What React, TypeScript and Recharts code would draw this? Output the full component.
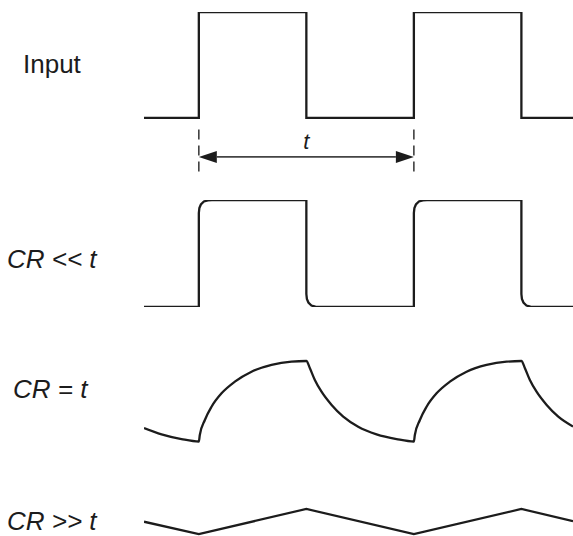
import React from 'react'
import { LineChart, Line, XAxis, YAxis, ReferenceLine } from 'recharts'

// time in half-periods (t = 2), level relative to the input step
const inputWave: [number, number][] = [
  [-0.51, 0], [0, 0], [0, 1], [1, 1], [1, 0], [2, 0], [2, 1], [3, 1], [3, 0], [3.48, 0],
]

const fastWave: [number, number][] = [
  [-0.51, 0], [0, 0], [0, 0.879], [0.005, 0.925], [0.019, 0.958], [0.047, 0.986], [0.084, 0.997], [0.121, 1],
  [1, 1], [1, 0.121], [1.005, 0.075], [1.019, 0.042], [1.047, 0.014], [1.084, 0.003], [1.121, 0],
  [2, 0], [2, 0.879], [2.005, 0.925], [2.019, 0.958], [2.047, 0.986], [2.084, 0.997], [2.121, 1],
  [3, 1], [3, 0.121], [3.005, 0.075], [3.019, 0.042], [3.047, 0.014], [3.084, 0.003], [3.121, 0],
  [3.48, 0],
]

const equalWave: [number, number][] = [
  [-0.51, 0.243], [-0.347, 0.184], [-0.161, 0.14], [0, 0.117],
  [0.009, 0.178], [0.056, 0.318], [0.118, 0.442], [0.211, 0.567], [0.335, 0.676], [0.49, 0.769], [0.676, 0.832], [0.862, 0.863], [1, 0.869],
  [1.033, 0.801], [1.079, 0.692], [1.141, 0.582], [1.235, 0.458], [1.343, 0.349], [1.482, 0.255], [1.653, 0.184], [1.839, 0.14], [2, 0.117],
  [2.009, 0.178], [2.056, 0.318], [2.118, 0.442], [2.211, 0.567], [2.335, 0.676], [2.49, 0.769], [2.676, 0.832], [2.862, 0.863], [3, 0.869],
  [3.033, 0.801], [3.079, 0.692], [3.141, 0.582], [3.235, 0.458], [3.343, 0.349], [3.48, 0.257],
]

const slowWave: [number, number][] = [
  [-0.51, 0.498], [0, 0.383], [1, 0.617], [2, 0.383], [3, 0.617], [3.48, 0.503],
]

const labels = ['Input', 'CR << t', 'CR = t', 'CR >> t']

const xDomain: [number, number] = [-0.51, 3.48]
const ink = '#1c1c1c'
const font = '"Liberation Sans", Arial, sans-serif'

const toRows = (pts: [number, number][]) => pts.map(([x, v]) => ({ x, v }))

function Arrow(props: any) {
  const { x1, y1, x2 } = props
  const head = 18
  const half = 6
  return (
    <g>
      <line x1={x1 + head} y1={y1} x2={x2 - head} y2={y1} stroke="#444" strokeWidth={1.6} />
      <polygon points={`${x1},${y1} ${x1 + head},${y1 - half} ${x1 + head},${y1 + half}`} fill={ink} />
      <polygon points={`${x2},${y1} ${x2 - head},${y1 - half} ${x2 - head},${y1 + half}`} fill={ink} />
      <text x={(x1 + x2) / 2} y={y1 - 8} textAnchor="middle" fontSize={22} fontStyle="italic" fontFamily={font} fill={ink}>
        t
      </text>
    </g>
  )
}

function Wave({ points, top, height, margin, yDomain, curve = 'linear', children }: any) {
  return (
    <div style={{ position: 'absolute', left: 0, top }}>
      <LineChart width={573} height={height} data={toRows(points)} margin={margin}>
        <XAxis type="number" dataKey="x" domain={xDomain} hide allowDataOverflow />
        <YAxis type="number" domain={yDomain} hide allowDataOverflow />
        <Line
          type={curve}
          dataKey="v"
          stroke={ink}
          strokeWidth={2.3}
          dot={false}
          activeDot={false}
          isAnimationActive={false}
        />
        {children}
      </LineChart>
    </div>
  )
}

export default function App() {
  const side = { right: 0, left: 144 }
  return (
    <div
      style={{
        position: 'absolute',
        left: 0,
        top: 0,
        width: 573,
        height: 536,
        overflow: 'hidden',
        background: '#fff',
        fontFamily: font,
      }}
    >
      <Wave points={inputWave} top={0} height={180} margin={{ top: 12, bottom: 7, ...side }} yDomain={[-0.52, 1]}>
        <ReferenceLine
          segment={[{ x: 0, y: -0.11 }, { x: 0, y: -0.52 }]}
          stroke="#333"
          strokeWidth={1.5}
          strokeDasharray="10 6"
        />
        <ReferenceLine
          segment={[{ x: 2, y: -0.11 }, { x: 2, y: -0.52 }]}
          stroke="#333"
          strokeWidth={1.5}
          strokeDasharray="10 6"
        />
        <ReferenceLine segment={[{ x: 0, y: -0.368 }, { x: 2, y: -0.368 }]} shape={Arrow} />
      </Wave>
      <Wave points={fastWave} top={190} height={127} margin={{ top: 10, bottom: 10, ...side }} yDomain={[0, 1]} />
      <Wave points={equalWave} top={337} height={127} margin={{ top: 10, bottom: 10, ...side }} yDomain={[0, 1]} curve="monotoneX" />
      <Wave points={slowWave} top={458} height={127} margin={{ top: 10, bottom: 10, ...side }} yDomain={[0, 1]} />
      <svg width={573} height={536} style={{ position: 'absolute', left: 0, top: 0, pointerEvents: 'none' }}>
        <text x={23} y={73} fontSize={26} fill={ink} fontFamily={font}>{labels[0]}</text>
        <text x={7} y={268} fontSize={26} fill={ink} fontFamily={font} fontStyle="italic">{labels[1]}</text>
        <text x={13} y={398} fontSize={26} fill={ink} fontFamily={font} fontStyle="italic">{labels[2]}</text>
        <text x={7} y={530} fontSize={26} fill={ink} fontFamily={font} fontStyle="italic">{labels[3]}</text>
      </svg>
    </div>
  )
}
